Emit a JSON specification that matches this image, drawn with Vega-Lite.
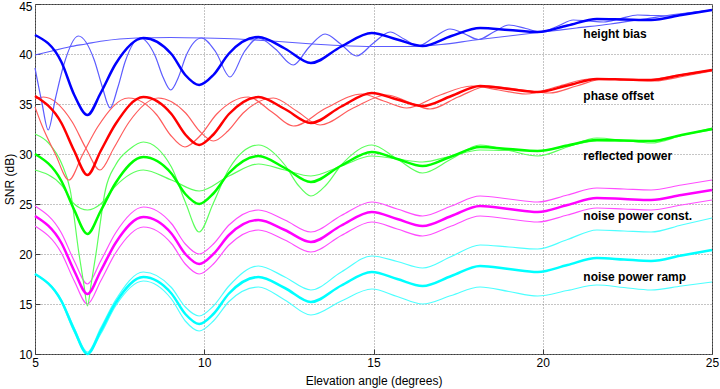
{
"$schema":"https://vega.github.io/schema/vega-lite/v6.json",
"width":677,"height":350,
"autosize":{"type":"none"},
"padding":{"left":35,"top":4,"right":8,"bottom":35},
"config":{"view":{"stroke":"#3c3c3c","strokeWidth":1},"font":"Liberation Sans",
"axis":{"grid":true,"gridDash":[1,2],"gridColor":"#8a8a8a","gridWidth":1,"domain":false,"tickColor":"#3c3c3c","tickSize":-5,"labelFontSize":12,"labelColor":"#000","titleFontSize":12,"titleFontWeight":"normal","titleColor":"#000","labelFlush":false}},
"datasets":{
"thick":[
{"g":"c","x":5,"y":18.0},{"g":"c","x":5.78,"y":15.3},{"g":"c","x":6.16,"y":12.4},{"g":"c","x":6.55,"y":10.0},{"g":"c","x":6.94,"y":12.3},{"g":"c","x":7.38,"y":15.1},{"g":"c","x":8.2,"y":17.7},{"g":"c","x":9.03,"y":16.05},{"g":"c","x":9.44,"y":14.0},{"g":"c","x":9.85,"y":13.0},{"g":"c","x":10.27,"y":14.0},{"g":"c","x":10.73,"y":16.05},{"g":"c","x":11.6,"y":17.7},{"g":"c","x":12.38,"y":16.6},{"g":"c","x":13.15,"y":15.2},{"g":"c","x":14.05,"y":16.85},{"g":"c","x":14.95,"y":18.2},{"g":"c","x":15.7,"y":17.5},{"g":"c","x":16.45,"y":16.8},{"g":"c","x":17.3,"y":17.8},{"g":"c","x":18.15,"y":18.8},{"g":"c","x":19,"y":18.5},{"g":"c","x":19.85,"y":18.2},{"g":"c","x":20.73,"y":18.9},{"g":"c","x":21.6,"y":19.6},{"g":"c","x":22.4,"y":19.45},{"g":"c","x":23.2,"y":19.3},{"g":"c","x":24.1,"y":19.85},{"g":"c","x":25,"y":20.4},
{"g":"m","x":5,"y":23.8},{"g":"m","x":5.78,"y":21.1},{"g":"m","x":6.16,"y":18.3},{"g":"m","x":6.55,"y":16.0},{"g":"m","x":6.94,"y":18.3},{"g":"m","x":7.38,"y":21.1},{"g":"m","x":8.2,"y":23.7},{"g":"m","x":9.03,"y":22.05},{"g":"m","x":9.44,"y":20.0},{"g":"m","x":9.85,"y":19.0},{"g":"m","x":10.27,"y":20.0},{"g":"m","x":10.73,"y":21.9},{"g":"m","x":11.6,"y":23.4},{"g":"m","x":12.38,"y":22.4},{"g":"m","x":13.15,"y":21.2},{"g":"m","x":14.05,"y":22.85},{"g":"m","x":14.95,"y":24.2},{"g":"m","x":15.7,"y":23.5},{"g":"m","x":16.45,"y":22.8},{"g":"m","x":17.3,"y":23.8},{"g":"m","x":18.15,"y":24.8},{"g":"m","x":19,"y":24.5},{"g":"m","x":19.85,"y":24.2},{"g":"m","x":20.73,"y":24.9},{"g":"m","x":21.6,"y":25.6},{"g":"m","x":22.4,"y":25.5},{"g":"m","x":23.2,"y":25.4},{"g":"m","x":24.1,"y":25.9},{"g":"m","x":25,"y":26.4},
{"g":"g","x":5,"y":30.0},{"g":"g","x":5.78,"y":27.3},{"g":"g","x":6.16,"y":24.4},{"g":"g","x":6.55,"y":22.0},{"g":"g","x":6.94,"y":24.3},{"g":"g","x":7.38,"y":27.1},{"g":"g","x":8.2,"y":29.7},{"g":"g","x":9.03,"y":28.05},{"g":"g","x":9.44,"y":26.0},{"g":"g","x":9.85,"y":25.0},{"g":"g","x":10.27,"y":26.05},{"g":"g","x":10.73,"y":28.1},{"g":"g","x":11.6,"y":29.8},{"g":"g","x":12.38,"y":28.6},{"g":"g","x":13.15,"y":27.2},{"g":"g","x":14.05,"y":28.85},{"g":"g","x":14.95,"y":30.2},{"g":"g","x":15.7,"y":29.5},{"g":"g","x":16.45,"y":28.8},{"g":"g","x":17.3,"y":29.75},{"g":"g","x":18.15,"y":30.7},{"g":"g","x":19,"y":30.5},{"g":"g","x":19.85,"y":30.3},{"g":"g","x":20.73,"y":30.85},{"g":"g","x":21.6,"y":31.4},{"g":"g","x":22.4,"y":31.35},{"g":"g","x":23.2,"y":31.3},{"g":"g","x":24.1,"y":31.9},{"g":"g","x":25,"y":32.5},
{"g":"r","x":5,"y":35.8},{"g":"r","x":5.78,"y":33.1},{"g":"r","x":6.16,"y":30.3},{"g":"r","x":6.55,"y":27.9},{"g":"r","x":6.94,"y":30.3},{"g":"r","x":7.38,"y":33.0},{"g":"r","x":8.2,"y":35.7},{"g":"r","x":9.03,"y":34.0},{"g":"r","x":9.44,"y":31.95},{"g":"r","x":9.85,"y":30.9},{"g":"r","x":10.27,"y":31.95},{"g":"r","x":10.73,"y":34.0},{"g":"r","x":11.6,"y":35.7},{"g":"r","x":12.38,"y":34.5},{"g":"r","x":13.15,"y":33.1},{"g":"r","x":14.05,"y":34.75},{"g":"r","x":14.95,"y":36.1},{"g":"r","x":15.7,"y":35.45},{"g":"r","x":16.45,"y":34.8},{"g":"r","x":17.3,"y":35.8},{"g":"r","x":18.15,"y":36.8},{"g":"r","x":19,"y":36.5},{"g":"r","x":19.85,"y":36.2},{"g":"r","x":20.73,"y":36.85},{"g":"r","x":21.6,"y":37.5},{"g":"r","x":22.4,"y":37.45},{"g":"r","x":23.2,"y":37.4},{"g":"r","x":24.1,"y":37.9},{"g":"r","x":25,"y":38.4},
{"g":"b","x":5,"y":41.9},{"g":"b","x":5.78,"y":39.2},{"g":"b","x":6.16,"y":35.9},{"g":"b","x":6.55,"y":33.9},{"g":"b","x":6.94,"y":36.1},{"g":"b","x":7.38,"y":39.0},{"g":"b","x":8.2,"y":41.6},{"g":"b","x":9.03,"y":40.0},{"g":"b","x":9.44,"y":37.9},{"g":"b","x":9.85,"y":36.9},{"g":"b","x":10.27,"y":37.9},{"g":"b","x":10.73,"y":40.05},{"g":"b","x":11.6,"y":41.7},{"g":"b","x":12.38,"y":40.55},{"g":"b","x":13.15,"y":39.1},{"g":"b","x":14.05,"y":40.75},{"g":"b","x":14.95,"y":42.1},{"g":"b","x":15.7,"y":41.45},{"g":"b","x":16.45,"y":40.8},{"g":"b","x":17.3,"y":41.8},{"g":"b","x":18.15,"y":42.6},{"g":"b","x":19,"y":42.4},{"g":"b","x":19.85,"y":42.2},{"g":"b","x":20.73,"y":42.85},{"g":"b","x":21.6,"y":43.5},{"g":"b","x":22.4,"y":43.45},{"g":"b","x":23.2,"y":43.4},{"g":"b","x":24.1,"y":43.9},{"g":"b","x":25,"y":44.4}
],
"thin":[
{"g":"c","s":"c1","x":5,"y":18.0},{"g":"c","s":"c1","x":5.78,"y":15.4},{"g":"c","s":"c1","x":6.16,"y":12.6},{"g":"c","s":"c1","x":6.55,"y":10.2},{"g":"c","s":"c1","x":6.94,"y":12.6},{"g":"c","s":"c1","x":7.38,"y":15.4},{"g":"c","s":"c1","x":8.2,"y":18.2},{"g":"c","s":"c1","x":9.03,"y":16.65},{"g":"c","s":"c1","x":9.44,"y":14.7},{"g":"c","s":"c1","x":9.85,"y":13.8},{"g":"c","s":"c1","x":10.27,"y":14.8},{"g":"c","s":"c1","x":10.73,"y":16.8},{"g":"c","s":"c1","x":11.6,"y":18.8},{"g":"c","s":"c1","x":12.38,"y":17.7},{"g":"c","s":"c1","x":13.15,"y":16.4},{"g":"c","s":"c1","x":14.05,"y":18.2},{"g":"c","s":"c1","x":14.95,"y":19.8},{"g":"c","s":"c1","x":15.7,"y":19.25},{"g":"c","s":"c1","x":16.45,"y":18.6},{"g":"c","s":"c1","x":17.3,"y":19.75},{"g":"c","s":"c1","x":18.15,"y":20.9},{"g":"c","s":"c1","x":19,"y":20.7},{"g":"c","s":"c1","x":19.85,"y":20.5},{"g":"c","s":"c1","x":20.73,"y":21.45},{"g":"c","s":"c1","x":21.6,"y":22.4},{"g":"c","s":"c1","x":22.4,"y":22.3},{"g":"c","s":"c1","x":23.2,"y":22.2},{"g":"c","s":"c1","x":24.1,"y":22.9},{"g":"c","s":"c1","x":25,"y":23.6},
{"g":"c","s":"c2","x":5,"y":18.0},{"g":"c","s":"c2","x":5.78,"y":15.2},{"g":"c","s":"c2","x":6.16,"y":12.2},{"g":"c","s":"c2","x":6.55,"y":10.0},{"g":"c","s":"c2","x":6.94,"y":12.0},{"g":"c","s":"c2","x":7.38,"y":14.8},{"g":"c","s":"c2","x":8.2,"y":17.3},{"g":"c","s":"c2","x":9.03,"y":15.5},{"g":"c","s":"c2","x":9.44,"y":13.3},{"g":"c","s":"c2","x":9.85,"y":12.3},{"g":"c","s":"c2","x":10.27,"y":13.3},{"g":"c","s":"c2","x":10.73,"y":15.25},{"g":"c","s":"c2","x":11.6,"y":16.7},{"g":"c","s":"c2","x":12.38,"y":15.4},{"g":"c","s":"c2","x":13.15,"y":13.9},{"g":"c","s":"c2","x":14.05,"y":15.3},{"g":"c","s":"c2","x":14.95,"y":16.5},{"g":"c","s":"c2","x":15.7,"y":15.75},{"g":"c","s":"c2","x":16.45,"y":15.0},{"g":"c","s":"c2","x":17.3,"y":15.85},{"g":"c","s":"c2","x":18.15,"y":16.7},{"g":"c","s":"c2","x":19,"y":16.25},{"g":"c","s":"c2","x":19.85,"y":15.8},{"g":"c","s":"c2","x":20.73,"y":16.35},{"g":"c","s":"c2","x":21.6,"y":16.9},{"g":"c","s":"c2","x":22.4,"y":16.65},{"g":"c","s":"c2","x":23.2,"y":16.4},{"g":"c","s":"c2","x":24.1,"y":16.8},{"g":"c","s":"c2","x":25,"y":17.2},
{"g":"m","s":"m1","x":5,"y":24.8},{"g":"m","s":"m1","x":5.78,"y":22.1},{"g":"m","s":"m1","x":6.16,"y":19.3},{"g":"m","s":"m1","x":6.55,"y":17.0},{"g":"m","s":"m1","x":6.94,"y":19.3},{"g":"m","s":"m1","x":7.38,"y":22.1},{"g":"m","s":"m1","x":8.2,"y":24.7},{"g":"m","s":"m1","x":9.03,"y":23.05},{"g":"m","s":"m1","x":9.44,"y":21.0},{"g":"m","s":"m1","x":9.85,"y":20.0},{"g":"m","s":"m1","x":10.27,"y":21.0},{"g":"m","s":"m1","x":10.73,"y":22.9},{"g":"m","s":"m1","x":11.6,"y":24.4},{"g":"m","s":"m1","x":12.38,"y":23.4},{"g":"m","s":"m1","x":13.15,"y":22.2},{"g":"m","s":"m1","x":14.05,"y":23.85},{"g":"m","s":"m1","x":14.95,"y":25.2},{"g":"m","s":"m1","x":15.7,"y":24.5},{"g":"m","s":"m1","x":16.45,"y":23.8},{"g":"m","s":"m1","x":17.3,"y":24.8},{"g":"m","s":"m1","x":18.15,"y":25.8},{"g":"m","s":"m1","x":19,"y":25.5},{"g":"m","s":"m1","x":19.85,"y":25.2},{"g":"m","s":"m1","x":20.73,"y":25.9},{"g":"m","s":"m1","x":21.6,"y":26.6},{"g":"m","s":"m1","x":22.4,"y":26.5},{"g":"m","s":"m1","x":23.2,"y":26.4},{"g":"m","s":"m1","x":24.1,"y":26.9},{"g":"m","s":"m1","x":25,"y":27.4},
{"g":"m","s":"m2","x":5,"y":22.8},{"g":"m","s":"m2","x":5.78,"y":20.1},{"g":"m","s":"m2","x":6.16,"y":17.3},{"g":"m","s":"m2","x":6.55,"y":15.0},{"g":"m","s":"m2","x":6.94,"y":17.3},{"g":"m","s":"m2","x":7.38,"y":20.1},{"g":"m","s":"m2","x":8.2,"y":22.7},{"g":"m","s":"m2","x":9.03,"y":21.05},{"g":"m","s":"m2","x":9.44,"y":19.0},{"g":"m","s":"m2","x":9.85,"y":18.0},{"g":"m","s":"m2","x":10.27,"y":19.0},{"g":"m","s":"m2","x":10.73,"y":20.9},{"g":"m","s":"m2","x":11.6,"y":22.4},{"g":"m","s":"m2","x":12.38,"y":21.4},{"g":"m","s":"m2","x":13.15,"y":20.2},{"g":"m","s":"m2","x":14.05,"y":21.85},{"g":"m","s":"m2","x":14.95,"y":23.2},{"g":"m","s":"m2","x":15.7,"y":22.5},{"g":"m","s":"m2","x":16.45,"y":21.8},{"g":"m","s":"m2","x":17.3,"y":22.8},{"g":"m","s":"m2","x":18.15,"y":23.8},{"g":"m","s":"m2","x":19,"y":23.5},{"g":"m","s":"m2","x":19.85,"y":23.2},{"g":"m","s":"m2","x":20.73,"y":23.9},{"g":"m","s":"m2","x":21.6,"y":24.6},{"g":"m","s":"m2","x":22.4,"y":24.5},{"g":"m","s":"m2","x":23.2,"y":24.4},{"g":"m","s":"m2","x":24.1,"y":24.9},{"g":"m","s":"m2","x":25,"y":25.4},
{"g":"g","s":"g1","x":5,"y":32.0},{"g":"g","s":"g1","x":5.4,"y":31.1},{"g":"g","s":"g1","x":5.78,"y":29.1},{"g":"g","s":"g1","x":6.04,"y":26.4},{"g":"g","s":"g1","x":6.3,"y":20.0},{"g":"g","s":"g1","x":6.45,"y":16.8},{"g":"g","s":"g1","x":6.55,"y":14.8},{"g":"g","s":"g1","x":6.65,"y":16.8},{"g":"g","s":"g1","x":6.8,"y":20.0},{"g":"g","s":"g1","x":7.08,"y":26.4},{"g":"g","s":"g1","x":7.38,"y":28.9},{"g":"g","s":"g1","x":7.8,"y":30.5},{"g":"g","s":"g1","x":8.2,"y":31.2},{"g":"g","s":"g1","x":9.03,"y":28.7},{"g":"g","s":"g1","x":9.44,"y":25.2},{"g":"g","s":"g1","x":9.85,"y":22.2},{"g":"g","s":"g1","x":10.27,"y":25.1},{"g":"g","s":"g1","x":10.73,"y":28.5},{"g":"g","s":"g1","x":11.6,"y":30.9},{"g":"g","s":"g1","x":12.38,"y":28.9},{"g":"g","s":"g1","x":12.77,"y":26.9},{"g":"g","s":"g1","x":13.15,"y":25.8},{"g":"g","s":"g1","x":13.6,"y":26.9},{"g":"g","s":"g1","x":14.05,"y":28.9},{"g":"g","s":"g1","x":14.95,"y":30.9},{"g":"g","s":"g1","x":15.7,"y":29.5},{"g":"g","s":"g1","x":16.45,"y":28.1},{"g":"g","s":"g1","x":17.3,"y":29.5},{"g":"g","s":"g1","x":18.15,"y":30.9},{"g":"g","s":"g1","x":19,"y":30.35},{"g":"g","s":"g1","x":19.85,"y":29.8},{"g":"g","s":"g1","x":20.73,"y":30.7},{"g":"g","s":"g1","x":21.6,"y":31.6},{"g":"g","s":"g1","x":22.4,"y":31.35},{"g":"g","s":"g1","x":23.2,"y":31.1},{"g":"g","s":"g1","x":24.1,"y":31.85},{"g":"g","s":"g1","x":25,"y":32.6},
{"g":"g","s":"g2","x":5,"y":28.4},{"g":"g","s":"g2","x":5.78,"y":26.9},{"g":"g","s":"g2","x":6.16,"y":25.0},{"g":"g","s":"g2","x":6.55,"y":24.4},{"g":"g","s":"g2","x":6.94,"y":25.0},{"g":"g","s":"g2","x":7.38,"y":26.8},{"g":"g","s":"g2","x":8.2,"y":28.4},{"g":"g","s":"g2","x":9.03,"y":27.4},{"g":"g","s":"g2","x":9.85,"y":26.3},{"g":"g","s":"g2","x":10.73,"y":27.8},{"g":"g","s":"g2","x":11.6,"y":29.0},{"g":"g","s":"g2","x":12.38,"y":28.4},{"g":"g","s":"g2","x":13.15,"y":27.8},{"g":"g","s":"g2","x":14.05,"y":28.8},{"g":"g","s":"g2","x":14.95,"y":29.8},{"g":"g","s":"g2","x":15.7,"y":29.5},{"g":"g","s":"g2","x":16.45,"y":29.2},{"g":"g","s":"g2","x":17.3,"y":29.8},{"g":"g","s":"g2","x":18.15,"y":30.4},{"g":"g","s":"g2","x":19,"y":30.35},{"g":"g","s":"g2","x":19.85,"y":30.3},{"g":"g","s":"g2","x":20.73,"y":30.8},{"g":"g","s":"g2","x":21.6,"y":31.3},{"g":"g","s":"g2","x":22.4,"y":31.3},{"g":"g","s":"g2","x":23.2,"y":31.3},{"g":"g","s":"g2","x":24.1,"y":31.9},{"g":"g","s":"g2","x":25,"y":32.4},
{"g":"r","s":"r1","x":5,"y":34.7},{"g":"r","s":"r1","x":5.2,"y":32.9},{"g":"r","s":"r1","x":5.6,"y":30.0},{"g":"r","s":"r1","x":6.0,"y":27.4},{"g":"r","s":"r1","x":6.4,"y":29.9},{"g":"r","s":"r1","x":6.85,"y":32.7},{"g":"r","s":"r1","x":7.76,"y":35.6},{"g":"r","s":"r1","x":8.6,"y":33.9},{"g":"r","s":"r1","x":9.0,"y":31.9},{"g":"r","s":"r1","x":9.43,"y":30.7},{"g":"r","s":"r1","x":9.87,"y":31.8},{"g":"r","s":"r1","x":10.37,"y":34.0},{"g":"r","s":"r1","x":11.3,"y":35.7},{"g":"r","s":"r1","x":12.0,"y":34.2},{"g":"r","s":"r1","x":12.63,"y":32.8},{"g":"r","s":"r1","x":13.6,"y":34.6},{"g":"r","s":"r1","x":14.65,"y":36.0},{"g":"r","s":"r1","x":15.3,"y":35.3},{"g":"r","s":"r1","x":15.98,"y":34.6},{"g":"r","s":"r1","x":16.9,"y":35.8},{"g":"r","s":"r1","x":17.9,"y":36.8},{"g":"r","s":"r1","x":18.7,"y":36.4},{"g":"r","s":"r1","x":19.5,"y":36.0},{"g":"r","s":"r1","x":20.5,"y":36.8},{"g":"r","s":"r1","x":21.4,"y":37.5},{"g":"r","s":"r1","x":22.2,"y":37.45},{"g":"r","s":"r1","x":23.0,"y":37.4},{"g":"r","s":"r1","x":24.0,"y":37.9},{"g":"r","s":"r1","x":25,"y":38.4},
{"g":"r","s":"r2","x":5,"y":35.5},{"g":"r","s":"r2","x":5.25,"y":35.7},{"g":"r","s":"r2","x":6.1,"y":33.2},{"g":"r","s":"r2","x":6.5,"y":30.6},{"g":"r","s":"r2","x":6.92,"y":28.4},{"g":"r","s":"r2","x":7.33,"y":30.6},{"g":"r","s":"r2","x":7.78,"y":33.2},{"g":"r","s":"r2","x":8.64,"y":35.6},{"g":"r","s":"r2","x":9.45,"y":34.1},{"g":"r","s":"r2","x":9.86,"y":32.3},{"g":"r","s":"r2","x":10.27,"y":31.3},{"g":"r","s":"r2","x":10.7,"y":32.3},{"g":"r","s":"r2","x":11.15,"y":34.1},{"g":"r","s":"r2","x":12.04,"y":35.6},{"g":"r","s":"r2","x":12.73,"y":34.3},{"g":"r","s":"r2","x":13.42,"y":32.9},{"g":"r","s":"r2","x":14.4,"y":34.6},{"g":"r","s":"r2","x":15.39,"y":35.9},{"g":"r","s":"r2","x":16.03,"y":35.2},{"g":"r","s":"r2","x":16.67,"y":34.5},{"g":"r","s":"r2","x":17.5,"y":35.7},{"g":"r","s":"r2","x":18.4,"y":36.8},{"g":"r","s":"r2","x":19.3,"y":36.45},{"g":"r","s":"r2","x":20.2,"y":36.1},{"g":"r","s":"r2","x":21.0,"y":36.8},{"g":"r","s":"r2","x":21.8,"y":37.5},{"g":"r","s":"r2","x":22.55,"y":37.4},{"g":"r","s":"r2","x":23.3,"y":37.3},{"g":"r","s":"r2","x":24.2,"y":37.8},{"g":"r","s":"r2","x":25,"y":38.3},
{"g":"b","s":"b1","x":5,"y":39.9},{"g":"b","s":"b1","x":5.5,"y":40.3},{"g":"b","s":"b1","x":6,"y":40.7},{"g":"b","s":"b1","x":6.5,"y":41.0},{"g":"b","s":"b1","x":7,"y":41.3},{"g":"b","s":"b1","x":7.5,"y":41.5},{"g":"b","s":"b1","x":8,"y":41.6},{"g":"b","s":"b1","x":9,"y":41.65},{"g":"b","s":"b1","x":10,"y":41.6},{"g":"b","s":"b1","x":11,"y":41.5},{"g":"b","s":"b1","x":12,"y":41.3},{"g":"b","s":"b1","x":13,"y":41.05},{"g":"b","s":"b1","x":14,"y":40.85},{"g":"b","s":"b1","x":15,"y":40.75},{"g":"b","s":"b1","x":16,"y":40.75},{"g":"b","s":"b1","x":17,"y":40.95},{"g":"b","s":"b1","x":18,"y":41.4},{"g":"b","s":"b1","x":19,"y":41.8},{"g":"b","s":"b1","x":20,"y":42.2},{"g":"b","s":"b1","x":21,"y":42.6},{"g":"b","s":"b1","x":22,"y":43.0},{"g":"b","s":"b1","x":23,"y":43.5},{"g":"b","s":"b1","x":24,"y":44.0},{"g":"b","s":"b1","x":25,"y":44.4},
{"g":"b","s":"b2","x":5,"y":38.6},{"g":"b","s":"b2","x":5.2,"y":35.2},{"g":"b","s":"b2","x":5.39,"y":32.4},{"g":"b","s":"b2","x":5.6,"y":35.5},{"g":"b","s":"b2","x":5.84,"y":38.8},{"g":"b","s":"b2","x":6.28,"y":41.8},{"g":"b","s":"b2","x":6.75,"y":39.4},{"g":"b","s":"b2","x":6.98,"y":36.8},{"g":"b","s":"b2","x":7.22,"y":34.6},{"g":"b","s":"b2","x":7.45,"y":36.7},{"g":"b","s":"b2","x":7.66,"y":39.2},{"g":"b","s":"b2","x":8.1,"y":41.6},{"g":"b","s":"b2","x":8.55,"y":39.8},{"g":"b","s":"b2","x":8.78,"y":37.7},{"g":"b","s":"b2","x":9.01,"y":36.4},{"g":"b","s":"b2","x":9.24,"y":37.7},{"g":"b","s":"b2","x":9.46,"y":39.8},{"g":"b","s":"b2","x":9.92,"y":41.6},{"g":"b","s":"b2","x":10.34,"y":40.2},{"g":"b","s":"b2","x":10.76,"y":37.7},{"g":"b","s":"b2","x":11.18,"y":40.2},{"g":"b","s":"b2","x":11.6,"y":41.6},{"g":"b","s":"b2","x":12.1,"y":40.5},{"g":"b","s":"b2","x":12.63,"y":38.9},{"g":"b","s":"b2","x":13.1,"y":40.7},{"g":"b","s":"b2","x":13.57,"y":42.0},{"g":"b","s":"b2","x":14.03,"y":41.0},{"g":"b","s":"b2","x":14.5,"y":39.8},{"g":"b","s":"b2","x":15.0,"y":41.1},{"g":"b","s":"b2","x":15.49,"y":42.2},{"g":"b","s":"b2","x":15.9,"y":41.5},{"g":"b","s":"b2","x":16.32,"y":40.8},{"g":"b","s":"b2","x":16.8,"y":41.7},{"g":"b","s":"b2","x":17.26,"y":42.5},{"g":"b","s":"b2","x":17.7,"y":42.0},{"g":"b","s":"b2","x":18.1,"y":41.45},{"g":"b","s":"b2","x":18.55,"y":42.2},{"g":"b","s":"b2","x":19,"y":42.9},{"g":"b","s":"b2","x":19.5,"y":42.55},{"g":"b","s":"b2","x":19.95,"y":42.2},{"g":"b","s":"b2","x":20.45,"y":42.8},{"g":"b","s":"b2","x":20.9,"y":43.4},{"g":"b","s":"b2","x":21.35,"y":43.3},{"g":"b","s":"b2","x":21.8,"y":43.2},{"g":"b","s":"b2","x":22.3,"y":43.55},{"g":"b","s":"b2","x":22.8,"y":43.9},{"g":"b","s":"b2","x":23.25,"y":43.85},{"g":"b","s":"b2","x":23.7,"y":43.8},{"g":"b","s":"b2","x":24.3,"y":44.1},{"g":"b","s":"b2","x":25,"y":44.4}
],
"labels":[
{"t":"height bias","x":21.2,"y":42.0},{"t":"phase offset","x":21.2,"y":35.8},{"t":"reflected power","x":21.2,"y":29.8},{"t":"noise power const.","x":21.2,"y":23.8},{"t":"noise power ramp","x":21.2,"y":17.7}
]},
"layer":[
{"data":{"name":"thin"},"mark":{"type":"line","interpolate":"monotone","strokeWidth":1.2},
"encoding":{
"x":{"field":"x","type":"quantitative","scale":{"domain":[5,25],"nice":false,"zero":false},"axis":{"title":"Elevation angle (degrees)","values":[5,10,15,20,25],"labelPadding":8,"titlePadding":7}},
"y":{"field":"y","type":"quantitative","scale":{"domain":[10,45],"nice":false,"zero":false},"axis":{"title":"SNR (dB)","values":[10,15,20,25,30,35,40,45],"labelPadding":8,"titlePadding":2,"labelOffset":{"condition":{"test":"datum.value == 45","value":2},"value":0}}},
"detail":{"field":"s"},
"color":{"field":"g","type":"nominal","legend":null,"scale":{"domain":["b","r","g","m","c"],"range":["#5c5cff","#ff5c5c","#5cff5c","#ff4dff","#4dffff"]}}}},
{"data":{"name":"thick"},"mark":{"type":"line","interpolate":"monotone","strokeWidth":2.5},
"encoding":{
"x":{"field":"x","type":"quantitative","title":"Elevation angle (degrees)"},
"y":{"field":"y","type":"quantitative","title":"SNR (dB)"},
"stroke":{"field":"g","type":"nominal","legend":null,"scale":{"domain":["b","r","g","m","c"],"range":["#0000ff","#ff0000","#00ff00","#ff00ff","#00ffff"]}}}},
{"data":{"name":"labels"},"mark":{"type":"text","align":"left","baseline":"middle","fontSize":12,"fontWeight":"bold","font":"Liberation Sans","color":"#000"},
"encoding":{
"x":{"field":"x","type":"quantitative","title":"Elevation angle (degrees)"},
"y":{"field":"y","type":"quantitative","title":"SNR (dB)"},
"text":{"field":"t"}}}
],
"resolve":{"scale":{"color":"independent","stroke":"independent"}}
}
